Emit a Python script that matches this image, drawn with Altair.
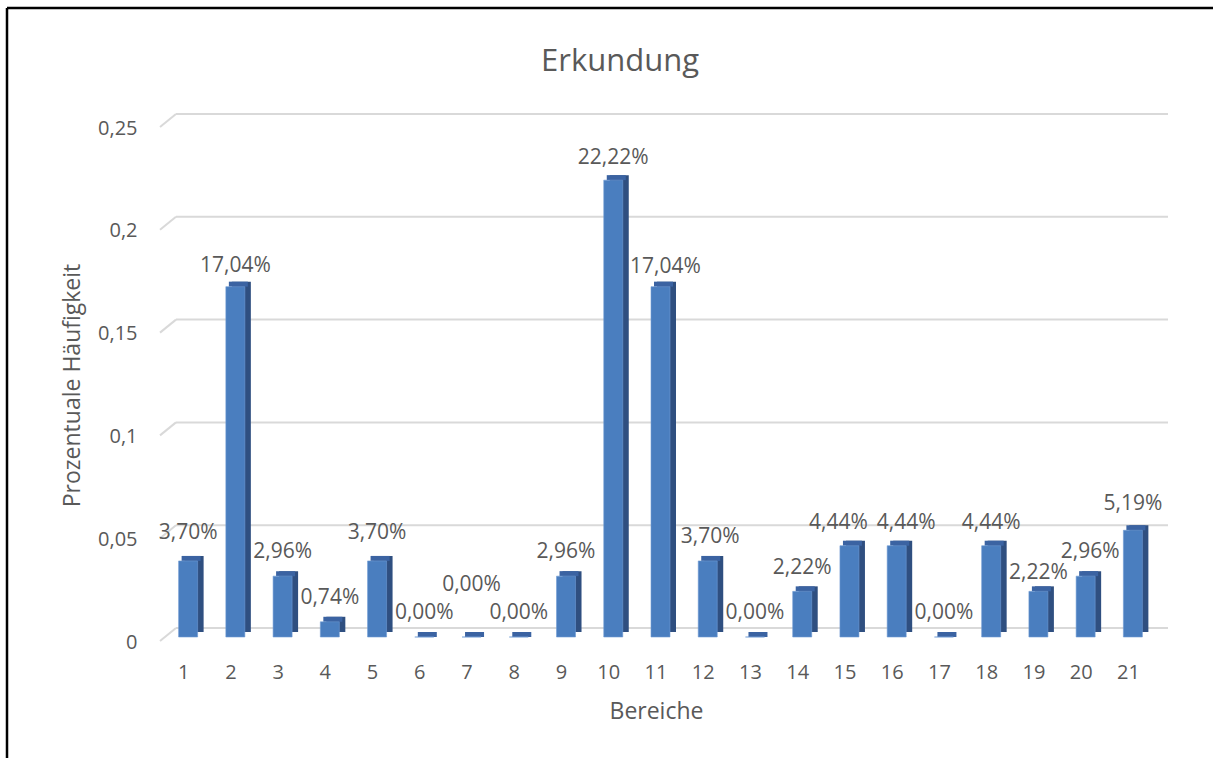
import altair as alt
import pandas as pd

# Share of observations per area ("Bereiche"), as fractions
areas = [str(i) for i in range(1, 22)]
shares = [0.0370, 0.1704, 0.0296, 0.0074, 0.0370, 0.0, 0.0, 0.0, 0.0296, 0.2222,
          0.1704, 0.0370, 0.0, 0.0222, 0.0444, 0.0444, 0.0, 0.0444, 0.0222, 0.0296, 0.0519]
y_ticks = [0, 0.05, 0.1, 0.15, 0.2, 0.25]

# Small nudges (px) for value labels so that neighbouring labels do not collide
label_dx = [0, 0, 0, 0, 0, 0, 0, 0, 0, 0, 5, 2.5, 0, 0, -11, 9.5, 0, 0, 0, 4.5, 0]
label_dy = [-4, 3, 0, 0, -4, 0, -28, 0, 0, 2, 4, 0, 0, 1, 1, 1, 0, 1, 6, 0, -2]

FONT = "Open Sans"
TEXT = "#595959"
FRONT = "#4a7ebf"
SIDE = "#2f4f80"
TOP = "#3b63a2"
GRID = "#d9d9d9"

W, H = 992, 514
DEPTH_X, DEPTH_Y = 6, 5
BAR_W = 19
BAR_SHIFT = 4.5

df = pd.DataFrame({"area": areas, "share": shares, "ldx": label_dx, "ldy": label_dy})
grid_df = pd.DataFrame({"tick": y_ticks})
one = pd.DataFrame({"k": [0]})

x_enc = alt.X("area:N", sort=areas, title="Bereiche",
              scale=alt.Scale(paddingInner=0, paddingOuter=0),
              axis=alt.Axis(labelAngle=0, domain=False, ticks=False, grid=False,
                            labelPadding=25, labelFontSize=20, labelColor=TEXT, labelFont=FONT,
                            titleFontSize=23, titleColor=TEXT, titleFont=FONT, titleFontWeight="normal",
                            titleY=74, titleBaseline="middle"))
y_scale = alt.Scale(domain=[0, 0.25], nice=False)
y_enc = alt.Y("share:Q", scale=y_scale, title="Prozentuale Häufigkeit",
              axis=alt.Axis(values=y_ticks, domain=False, ticks=False, grid=False,
                            labelExpr="replace(toString(datum.value), '.', ',')",
                            labelPadding=23, labelOffset=5, labelFontSize=20,
                            labelColor=TEXT, labelFont=FONT,
                            titleFontSize=23, titleColor=TEXT, titleFont=FONT,
                            titleFontWeight="normal", titleX=-88, titleY=262,
                            titleBaseline="middle"))

base = alt.Chart(df)

# Back-wall gridlines plus the short slanted edges of the floor/wall
grid_back = alt.Chart(grid_df).mark_rule(color=GRID, strokeWidth=2, yOffset=-9).encode(
    x=alt.value(16), x2=alt.value(W + 16), y=alt.Y("tick:Q", scale=y_scale))
grid_edge = alt.Chart(grid_df).mark_rule(color=GRID, strokeWidth=2, yOffset=4, y2Offset=-9).encode(
    x=alt.value(0), x2=alt.value(16), y=alt.Y("tick:Q", scale=y_scale), y2="tick:Q")

# 3D-style columns: side face, top face, front face
side = base.mark_bar(size=BAR_W, color=SIDE, xOffset=BAR_SHIFT + DEPTH_X,
                     yOffset=-DEPTH_Y, y2Offset=-DEPTH_Y).encode(x=x_enc, y=y_enc)
top = base.mark_bar(size=BAR_W, color=TOP, xOffset=BAR_SHIFT + DEPTH_X / 2,
                    yOffset=-DEPTH_Y, y2Offset=0).encode(x=x_enc, y=y_enc, y2="share:Q")
front = base.mark_bar(size=BAR_W, color=FRONT, xOffset=BAR_SHIFT,
                      stroke="#6f9ad3", strokeWidth=0.6).encode(x=x_enc, y=y_enc)

labels = base.mark_text(
    font=FONT, fontSize=21, color=TEXT, baseline="middle",
    dx={"expr": f"{BAR_SHIFT} + datum.ldx"}, dy={"expr": "-24 + datum.ldy"},
).encode(x=x_enc, y=y_enc, text="label:N").transform_calculate(
    label="replace(format(datum.share, '.2%'), '.', ',')")

# Chart heading
heading = alt.Chart(one).mark_text(
    text="Erkundung", font=FONT, fontSize=31, color=TEXT, baseline="middle", align="center"
).encode(x=alt.value(460), y=alt.value(-61))

# Frame lines along the left and top edges of the canvas
frame_left = alt.Chart(one).mark_rule(color="#000000", strokeWidth=2.5).encode(
    x=alt.value(-153), y=alt.value(-115), y2=alt.value(H + 121))
frame_top = alt.Chart(one).mark_rule(color="#000000", strokeWidth=2.5).encode(
    x=alt.value(-153), x2=alt.value(W + 61), y=alt.value(-115))

chart = alt.layer(grid_back, grid_edge, side, top, front, labels, heading,
                  frame_left, frame_top).properties(
    width=W, height=H,
    autosize=alt.AutoSizeParams(type="none"),
    padding={"left": 160, "top": 123, "right": 61, "bottom": 121},
    background="white",
).configure_view(stroke=None)

chart.save("out.html", embed_options={"renderer": "svg", "actions": False})
